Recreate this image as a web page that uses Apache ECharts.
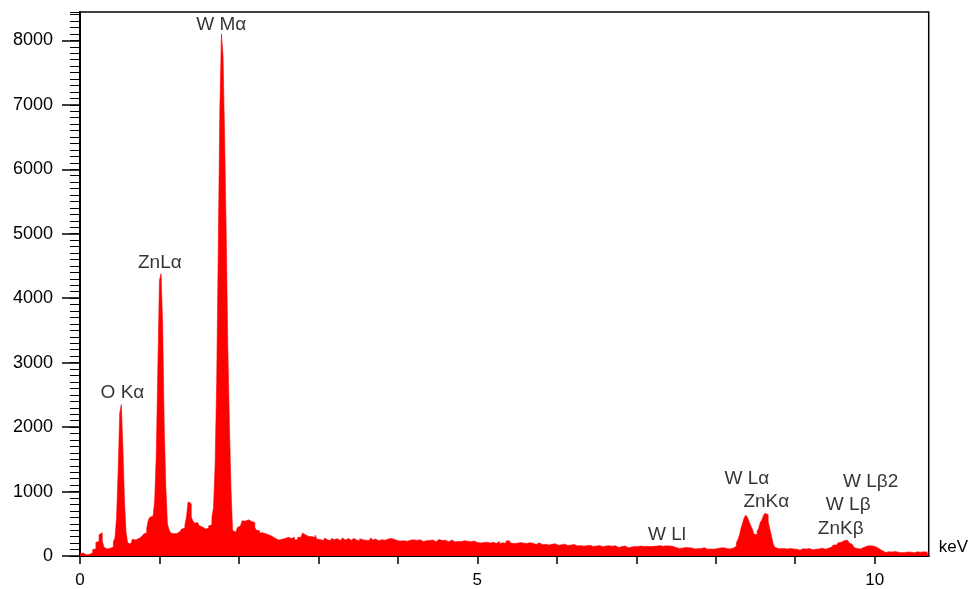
<!DOCTYPE html>
<html><head><meta charset="utf-8">
<script src="https://cdn.jsdelivr.net/npm/echarts@6/dist/echarts.min.js"></script>
<style>html,body{margin:0;padding:0;background:#fff}#c{width:971px;height:589px}</style>
</head><body><div id="c"></div>
<script>
// ---- data ----
const binWidthKeV = 0.02;
const energyMaxKeV = 10.68;
const countsMax = 8440;

const counts_0_2keV = [
40, 45, 15, 20, 20, 25, 25, 50, 100, 110,
210, 230, 330, 360, 240, 140, 110, 100, 120, 110,
140, 220, 280, 590, 1320, 2220, 2350, 1680, 840, 365,
200, 190, 210, 260, 250, 255, 270, 300, 305, 320,
340, 360, 430, 560, 600, 620, 640, 860, 1580, 2950,
4280, 4380, 3600, 2000, 1070, 500, 410, 360, 345, 330,
350, 370, 380, 390, 420, 430, 480, 605, 840, 810,
605, 545, 510, 520, 490, 470, 450, 445, 420, 420,
430, 470, 480, 600, 750, 1400, 2700, 4790, 6950, 8100,
7760, 6480, 4990, 3250, 2050, 1040, 400, 370, 355, 440];

const counts_2_3keV = [
470, 470, 546, 540, 536, 562, 572, 536, 520, 520,
443, 400, 392, 356, 360, 376, 345, 340, 325, 315,
304, 290, 273, 270, 247, 263, 260, 273, 270, 275,
289, 280, 273, 276, 289, 247, 255, 289, 290, 300,
356, 325, 320, 304, 294, 300, 280, 290, 325, 263];

const counts_3_5keV = [
255, 270, 242, 262, 278, 248, 265, 240, 272, 255,
244, 268, 258, 238, 266, 280, 250, 246, 270, 255,
240, 262, 275, 248, 258, 236, 268, 252, 270, 245,
260, 240, 268, 282, 250, 262, 244, 238, 266, 254,
270, 246, 240, 262, 252, 272, 288, 256, 242, 238,
252, 232, 258, 236, 250, 228, 256, 246, 234, 252,
262, 240, 230, 254, 240, 226, 250, 236, 258, 242,
228, 248, 234, 222, 246, 256, 232, 240, 224, 244,
236, 220, 242, 250, 228, 218, 240, 226, 246, 224,
220, 238, 214, 230, 242, 220, 212, 234, 224, 210];

const counts_5_6p6keV = [
218, 200, 226, 208, 196, 214, 222, 200, 192, 212,
218, 196, 210, 226, 190, 204, 216, 196, 232, 238,
214, 200, 192, 212, 196, 188, 208, 186, 200, 214,
192, 184, 206, 182, 198, 188, 178, 196, 204, 184,
176, 196, 182, 192, 172, 194, 182, 170, 190, 180,
168, 186, 174, 164, 184, 172, 162, 182, 170, 160,
180, 166, 156, 176, 162, 172, 152, 170, 160, 150,
166, 156, 148, 168, 154, 146, 164, 152, 142, 158];

const counts_6p6_8p2keV = [
154, 142, 160, 140, 152, 134, 158, 146, 132, 152,
146, 132, 156, 142, 128, 150, 138, 126, 148, 136,
146, 130, 154, 138, 148, 132, 150, 128, 146, 136,
150, 138, 154, 142, 160, 164, 152, 170, 158, 172,
156, 168, 150, 142, 130, 124, 118, 134, 122, 116,
132, 114, 128, 112, 126, 134, 110, 126, 114, 130,
118, 108, 128, 114, 104, 124, 110, 122, 106, 126,
116, 104, 124, 112, 128, 106, 118, 126, 110, 122];

const counts_8p2_8p8keV = [
122, 130, 150, 200, 260, 330, 440, 520, 600, 634,
598, 530, 470, 420, 340, 330, 380, 430, 520, 560,
624, 665, 640, 530, 420, 320, 200, 140, 118, 110];

const counts_8p8_9p4keV = [
112, 96, 116, 92, 108, 100, 118, 94, 110, 92,
106, 116, 90, 104, 114, 94, 110, 100, 116, 104,
96, 112, 104, 120, 108, 100, 122, 112, 106, 124];

const counts_9p4_10p1keV = [
120, 128, 140, 160, 172, 170, 185, 205, 212, 225,
240, 250, 245, 232, 200, 180, 160, 130, 115, 110,
108, 118, 130, 140, 150, 162, 158, 165, 155, 160,
140, 118, 110, 100, 80];

const counts_10p1_10p68keV = [
70, 56, 60, 66, 50, 62, 54, 68, 50, 60,
64, 52, 66, 56, 48, 62, 52, 60, 66, 50,
58, 64, 48, 60, 52, 64, 50, 60, 54];

const xTickValues = [0, 1, 2, 3, 4, 5, 6, 7, 8, 9, 10];
const xLabelValues = [0, 5, 10];
const yLabelValues = [0, 1000, 2000, 3000, 4000, 5000, 6000, 7000, 8000];

const peakNames  = ['W M\u03b1', 'ZnL\u03b1', 'O K\u03b1', 'W Ll', 'W L\u03b1', 'ZnK\u03b1', 'W L\u03b22', 'W L\u03b2', 'ZnK\u03b2'];
const peakKeV    = [1.778, 1.005, 0.534, 7.387, 8.392, 8.637, 9.950, 9.667, 9.573];
const peakCounts = [8240, 4553, 2532, 333, 1200, 836, 1154, 798, 418];

// ---- build ----
const counts = [].concat(counts_0_2keV, counts_2_3keV, counts_3_5keV, counts_5_6p6keV,
  counts_6p6_8p2keV, counts_8p2_8p8keV, counts_8p8_9p4keV, counts_9p4_10p1keV, counts_10p1_10p68keV);
const stepData = counts.map((v, i) => [+(i * binWidthKeV).toFixed(3), v]);
stepData.push([energyMaxKeV, counts[counts.length - 1]]);

const FONT = "'Liberation Sans', Arial, sans-serif";
const chart = echarts.init(document.getElementById('c'), null, {renderer: 'canvas'});
chart.setOption({
  animation: false,
  backgroundColor: '#fff',
  grid: {left: 80, right: 41, top: 12, bottom: 32, show: true, borderColor: '#000', borderWidth: 1.5, backgroundColor: 'transparent'},
  xAxis: {
    type: 'value', min: 0, max: energyMaxKeV,
    axisLine: {show: true, onZero: false, lineStyle: {color: '#000', width: 2}},
    axisTick: {show: true, customValues: xTickValues, length: 8, lineStyle: {color: '#000', width: 1.5}},
    axisLabel: {customValues: xLabelValues, fontSize: 17, color: '#000', margin: 16, fontFamily: FONT, formatter: v => String(v)},
    splitLine: {show: false},
    name: 'keV', nameLocation: 'end', nameGap: 10,
    nameTextStyle: {fontSize: 17, color: '#000', verticalAlign: 'bottom', align: 'left', fontFamily: FONT}
  },
  yAxis: [{
    type: 'value', min: 0, max: countsMax,
    axisLine: {show: true, lineStyle: {color: '#000', width: 2}},
    axisTick: {show: true, customValues: yLabelValues, length: 18, lineStyle: {color: '#000', width: 1.5}},
    axisLabel: {customValues: yLabelValues, fontSize: 18, color: '#000', margin: 27, fontFamily: FONT, formatter: v => String(v)},
    splitLine: {show: false}
  }, {
    type: 'value', min: 0, max: countsMax, interval: 100, position: 'left',
    axisLine: {show: false},
    axisTick: {show: true, length: 10, lineStyle: {color: '#000', width: 1}},
    axisLabel: {show: false},
    splitLine: {show: false}
  }],
  series: [{
    type: 'line', step: 'end', data: stepData, symbol: 'none', silent: true,
    xAxisIndex: 0, yAxisIndex: 0,
    lineStyle: {width: 0.6, color: '#ff0000'},
    areaStyle: {color: '#ff0000', opacity: 1}
  }, {
    type: 'scatter', xAxisIndex: 0, yAxisIndex: 0, silent: true, z: 10,
    data: peakNames.map((n, i) => ({name: n, value: [peakKeV[i], peakCounts[i]]})),
    symbolSize: 1, itemStyle: {color: 'rgba(0,0,0,0)'},
    label: {show: true, position: 'inside', formatter: '{b}', color: '#000', fontSize: 19, fontFamily: FONT}
  }]
});
</script>
</body></html>
